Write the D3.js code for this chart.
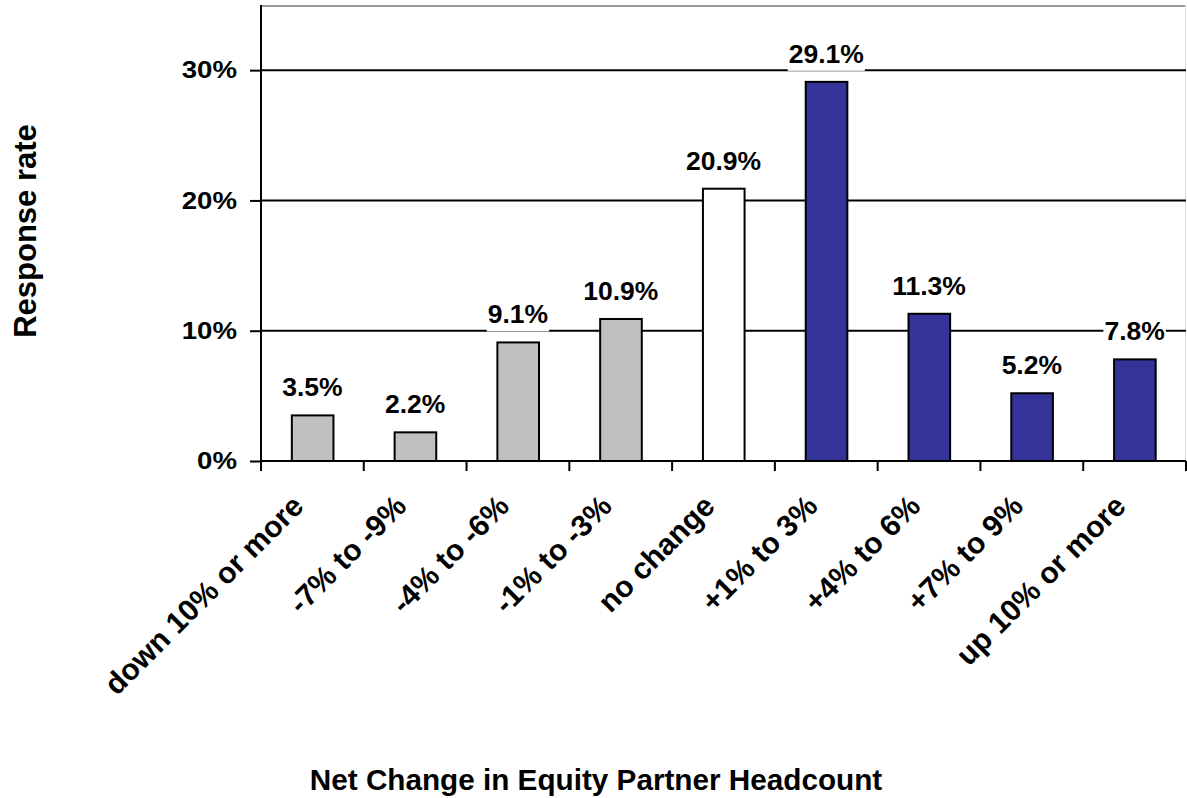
<!DOCTYPE html>
<html>
<head>
<meta charset="utf-8">
<script src="https://cdn.jsdelivr.net/npm/d3@7"></script>
<style>
  body { margin: 0; background: #fff; }
  text { font-family: "Liberation Sans", Arial, sans-serif; font-weight: bold; fill: #000; }
</style>
</head>
<body>
<div id="chart"></div>
<script>
// data
const categories = ['down 10% or more', '-7% to -9%', '-4% to -6%', '-1% to -3%', 'no change',
  '+1% to 3%', '+4% to 6%', '+7% to 9%', 'up 10% or more'];
const values = [3.5, 2.2, 9.1, 10.9, 20.9, 29.1, 11.3, 5.2, 7.8];
const direction = ['down', 'down', 'down', 'down', 'none', 'up', 'up', 'up', 'up'];
const yTicks = [0, 10, 20, 30];
const xTitle = 'Net Change in Equity Partner Headcount';
const yTitle = 'Response rate';

const W = 1187, H = 798;
const margin = { top: 5, right: 1, bottom: 337, left: 261 };
const width = W - margin.left - margin.right;
const height = H - margin.top - margin.bottom;

const data = categories.map((c, i) => ({ name: c, value: values[i], dir: direction[i] }));

const svg = d3.select('#chart').append('svg')
  .attr('width', W)
  .attr('height', H);

const g = svg.append('g')
  .attr('transform', `translate(${margin.left},${margin.top})`);

const x = d3.scaleBand()
  .domain(categories)
  .range([0, width])
  .padding(0);

const y = d3.scaleLinear()
  .domain([0, 35])
  .range([height, 0]);

const color = d3.scaleOrdinal()
  .domain(['down', 'none', 'up'])
  .range(['#c0c0c0', '#ffffff', '#333399']);

// plot frame (top / right)
g.append('line')
  .attr('x1', 0).attr('x2', width).attr('y1', 1).attr('y2', 1)
  .attr('stroke', '#999').attr('stroke-width', 2);
g.append('line')
  .attr('x1', width - 0.5).attr('x2', width - 0.5).attr('y1', 0).attr('y2', height)
  .attr('stroke', '#ddd').attr('stroke-width', 1);

// gridlines
g.append('g')
  .selectAll('line')
  .data(yTicks.filter(d => d > 0))
  .enter()
  .append('line')
  .attr('x1', 0).attr('x2', width)
  .attr('y1', d => y(d)).attr('y2', d => y(d))
  .attr('stroke', '#000').attr('stroke-width', 2);

// bars
const bw = x.bandwidth();
g.selectAll('.bar')
  .data(data)
  .enter()
  .append('rect')
  .attr('class', 'bar')
  .attr('x', d => x(d.name) + bw * 0.3)
  .attr('width', bw * 0.405)
  .attr('y', d => y(d.value))
  .attr('height', d => height - y(d.value))
  .attr('fill', d => color(d.dir))
  .attr('stroke', '#000')
  .attr('stroke-width', 2);

// value labels with white box behind
const labels = g.selectAll('.value-label')
  .data(data)
  .enter()
  .append('g')
  .attr('class', 'value-label')
  .attr('transform', d => `translate(${x(d.name) + bw / 2},${y(d.value) - 19})`);

labels.append('text')
  .attr('text-anchor', 'middle')
  .attr('font-size', '26.5px')
  .text(d => d.value.toFixed(1) + '%');

labels.each(function () {
  const t = d3.select(this).select('text');
  const b = t.node().getBBox();
  d3.select(this).insert('rect', 'text')
    .attr('x', b.x - 1)
    .attr('y', b.y)
    .attr('width', b.width + 2)
    .attr('height', b.height + 2)
    .attr('fill', '#fff');
});

// y axis
const yAxis = g.append('g')
  .call(d3.axisLeft(y).tickValues(yTicks).tickSize(11).tickPadding(13).tickFormat(d => d + '%'));
yAxis.select('.domain').remove();
yAxis.selectAll('.tick line').attr('stroke', '#000').attr('stroke-width', 2);
yAxis.selectAll('.tick text')
  .attr('font-size', '24px')
  .attr('font-family', '"Liberation Sans", Arial, sans-serif')
  .attr('font-weight', 'bold')
  .attr('fill', '#000')
  .attr('x', -24 / 1.15)
  .attr('transform', 'scale(1.15,1)');
g.append('line')
  .attr('x1', 0).attr('x2', 0).attr('y1', 0).attr('y2', height)
  .attr('stroke', '#000').attr('stroke-width', 2);

// x axis
const xAxis = g.append('g')
  .attr('transform', `translate(0,${height})`)
  .call(d3.axisBottom(x).tickSize(0).tickPadding(0));
xAxis.select('.domain').remove();
xAxis.selectAll('.tick text')
  .attr('font-size', '30px')
  .attr('font-family', '"Liberation Sans", Arial, sans-serif')
  .attr('font-weight', 'bold')
  .attr('fill', '#000')
  .attr('text-anchor', 'end')
  .attr('dy', 0)
  .attr('y', 0)
  .attr('transform', 'translate(-7,47) rotate(-45)');

const bounds = categories.map(c => x(c)).concat([width]);
xAxis.selectAll('.bound')
  .data(bounds)
  .enter()
  .append('line')
  .attr('class', 'bound')
  .attr('x1', d => d).attr('x2', d => d)
  .attr('y1', 0).attr('y2', 10)
  .attr('stroke', '#000').attr('stroke-width', 2);
xAxis.append('line')
  .attr('x1', 0).attr('x2', width).attr('y1', 0).attr('y2', 0)
  .attr('stroke', '#000').attr('stroke-width', 2);

// axis titles
svg.append('text')
  .attr('x', 596)
  .attr('y', 790)
  .attr('text-anchor', 'middle')
  .attr('font-size', '29.7px')
  .text(xTitle);

svg.append('text')
  .attr('transform', 'translate(36,231) rotate(-90)')
  .attr('text-anchor', 'middle')
  .attr('font-size', '31px')
  .text(yTitle);
</script>
</body>
</html>
